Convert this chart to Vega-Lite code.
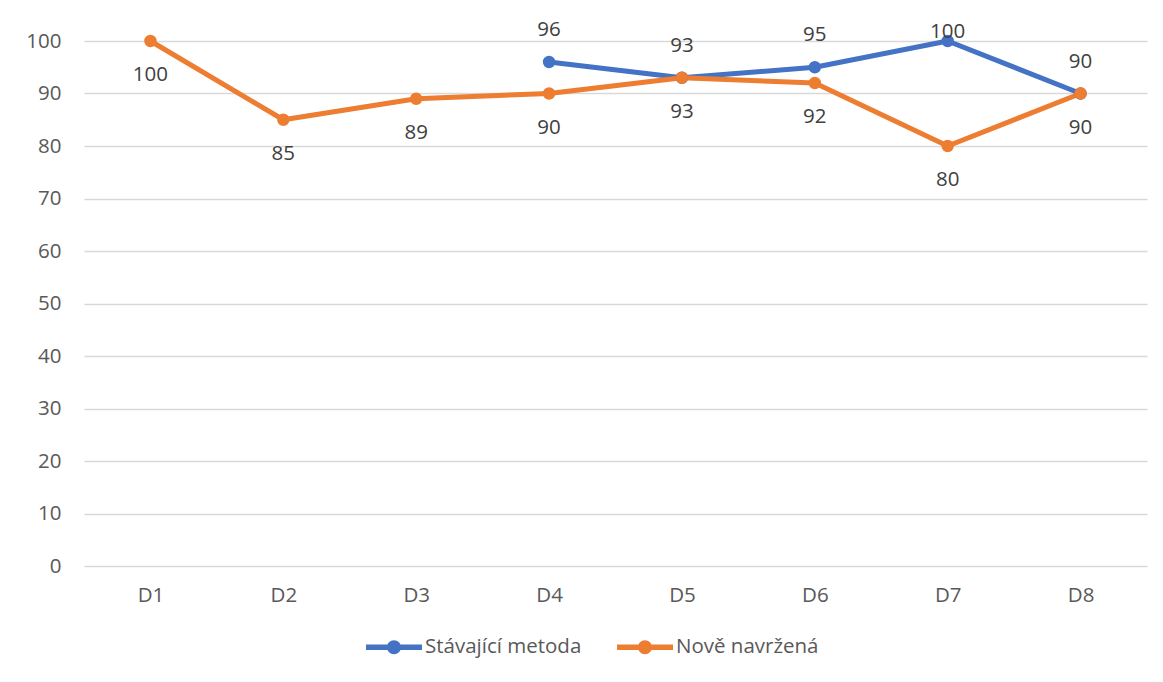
{
  "$schema": "https://vega.github.io/schema/vega-lite/v6.json",
  "autosize": "none",
  "width": 1063,
  "height": 525,
  "padding": {"left": 84, "top": 41, "right": 16, "bottom": 116},
  "background": "white",
  "config": {
    "view": {"stroke": null},
    "font": "Open Sans",
    "axis": {"labelFont": "Open Sans", "labelFontSize": 20.5, "labelColor": "#595959", "domain": false, "ticks": false, "title": null}
  },
  "data": {"values": [
    {"d": "D4", "series": "Stávající metoda", "value": 96},
    {"d": "D5", "series": "Stávající metoda", "value": 93},
    {"d": "D6", "series": "Stávající metoda", "value": 95},
    {"d": "D7", "series": "Stávající metoda", "value": 100},
    {"d": "D8", "series": "Stávající metoda", "value": 90},
    {"d": "D1", "series": "Nově navržená", "value": 100},
    {"d": "D2", "series": "Nově navržená", "value": 85},
    {"d": "D3", "series": "Nově navržená", "value": 89},
    {"d": "D4", "series": "Nově navržená", "value": 90},
    {"d": "D5", "series": "Nově navržená", "value": 93},
    {"d": "D6", "series": "Nově navržená", "value": 92},
    {"d": "D7", "series": "Nově navržená", "value": 80},
    {"d": "D8", "series": "Nově navržená", "value": 90}
  ]},
  "encoding": {
    "x": {"field": "d", "type": "ordinal", "sort": ["D1","D2","D3","D4","D5","D6","D7","D8"],
      "scale": {"type": "point", "padding": 0.5},
      "axis": {"labelAngle": 0, "grid": false, "labelPadding": 19}},
    "y": {"field": "value", "type": "quantitative",
      "scale": {"domain": [0, 100], "nice": false},
      "axis": {"values": [0,10,20,30,40,50,60,70,80,90,100], "grid": true, "gridColor": "#d9d9d9", "gridWidth": 1.5, "labelPadding": 23}}
  },
  "layer": [
    {
      "mark": {"type": "line", "strokeWidth": 5, "strokeCap": "round", "strokeJoin": "round"},
      "encoding": {
        "color": {"field": "series", "type": "nominal",
          "scale": {"domain": ["Stávající metoda", "Nově navržená"], "range": ["#4472C4", "#ED7D31"]},
          "legend": {"orient": "none", "legendX": 282, "legendY": 578, "direction": "horizontal", "title": null,
            "symbolType": "M-1,-0.1L1,-0.1L1,0.1L-1,0.1Z M0.25,0A0.25,0.25,0,1,1,-0.25,0A0.25,0.25,0,1,1,0.25,0Z",
            "symbolSize": 3136, "symbolStrokeWidth": 0, "labelOffset": 3, "columnPadding": 35, "padding": 0,
            "labelFont": "Open Sans", "labelFontSize": 20.5, "labelColor": "#595959",
            "encode": {"symbols": {"update": {"fill": {"scale": "color", "field": "value"}, "strokeWidth": {"value": 0}, "opacity": {"value": 1}}}}}}
      }
    },
    {
      "mark": {"type": "point", "filled": true, "size": 154, "opacity": 1},
      "encoding": {
        "color": {"field": "series", "type": "nominal",
          "scale": {"domain": ["Stávající metoda", "Nově navržená"], "range": ["#4472C4", "#ED7D31"]},
          "legend": {"orient": "none", "legendX": 282, "legendY": 578, "direction": "horizontal", "title": null,
            "symbolType": "M-1,-0.1L1,-0.1L1,0.1L-1,0.1Z M0.25,0A0.25,0.25,0,1,1,-0.25,0A0.25,0.25,0,1,1,0.25,0Z",
            "symbolSize": 3136, "symbolStrokeWidth": 0, "labelOffset": 3, "columnPadding": 35, "padding": 0,
            "labelFont": "Open Sans", "labelFontSize": 20.5, "labelColor": "#595959",
            "encode": {"symbols": {"update": {"fill": {"scale": "color", "field": "value"}, "strokeWidth": {"value": 0}, "opacity": {"value": 1}}}}}}
      }
    },
    {
      "transform": [{"filter": "datum.series === 'Nově navržená'"}],
      "mark": {"type": "text", "dy": 34, "fontSize": 20.5, "font": "Open Sans", "color": "#404040", "baseline": "middle"},
      "encoding": {"text": {"field": "value", "type": "quantitative"}}
    },
    {
      "transform": [{"filter": "datum.series === 'Stávající metoda' && datum.d !== 'D7'"}],
      "mark": {"type": "text", "dy": -32, "fontSize": 20.5, "font": "Open Sans", "color": "#404040", "baseline": "middle"},
      "encoding": {"text": {"field": "value", "type": "quantitative"}}
    },
    {
      "transform": [{"filter": "datum.series === 'Stávající metoda' && datum.d === 'D7'"}],
      "mark": {"type": "text", "dy": -9, "fontSize": 20.5, "font": "Open Sans", "color": "#404040", "baseline": "middle"},
      "encoding": {"text": {"field": "value", "type": "quantitative"}}
    }
  ]
}
